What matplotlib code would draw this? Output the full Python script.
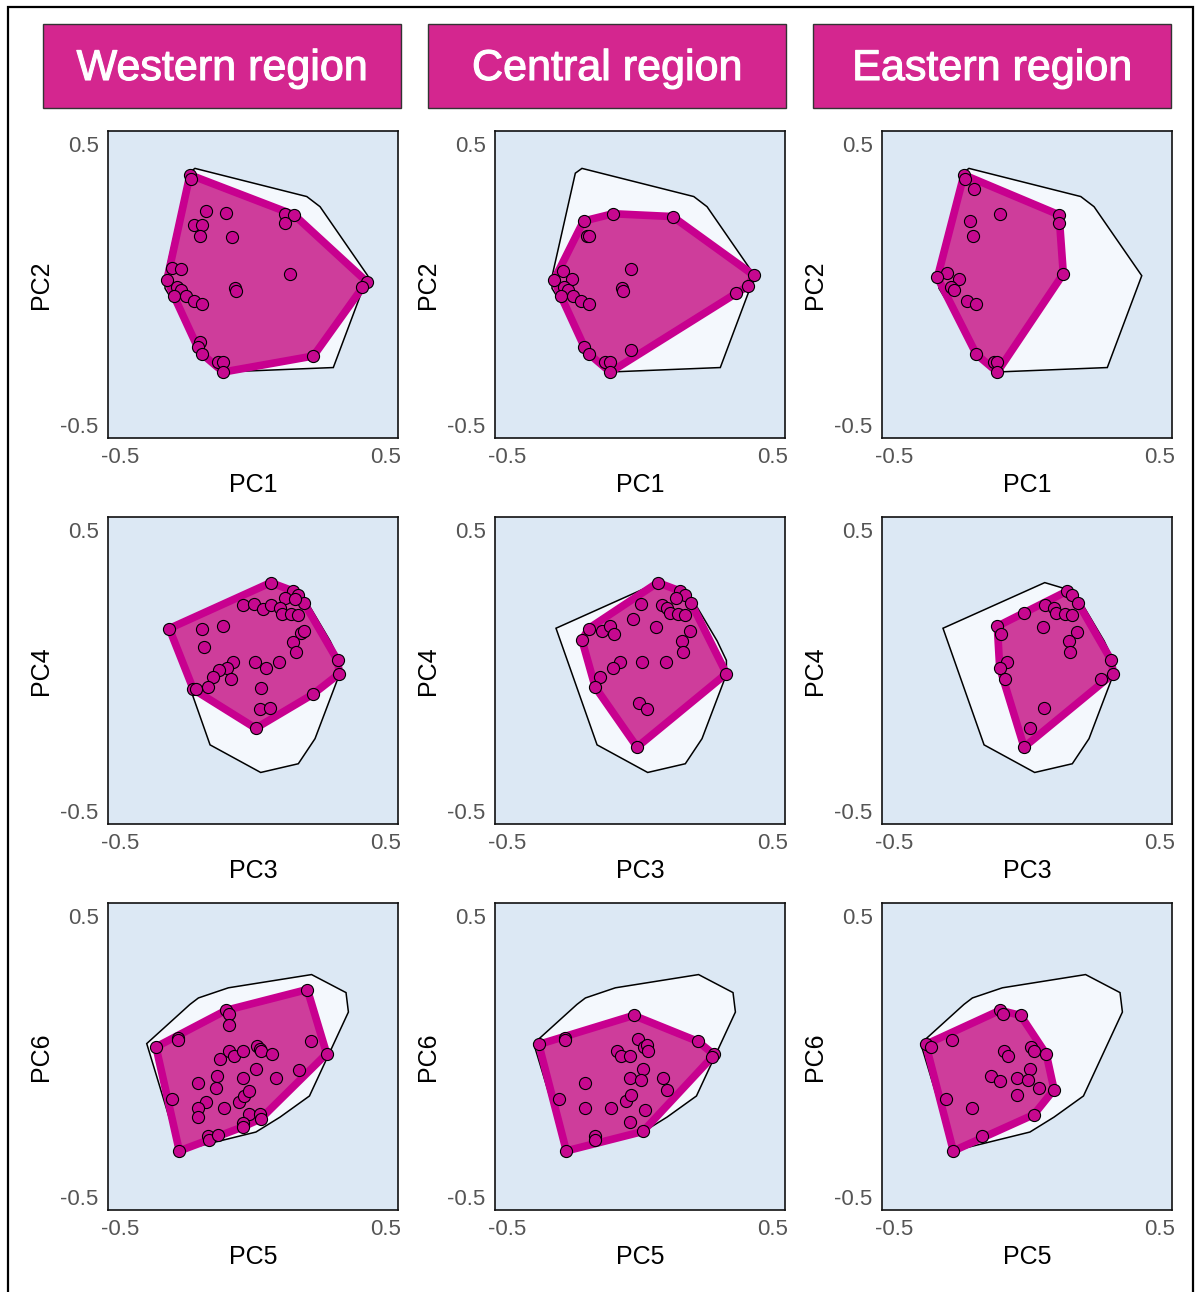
import matplotlib.pyplot as plt
from matplotlib.patches import Rectangle
import matplotlib.patheffects as pe

plt.rcParams['font.family'] = ['Liberation Sans', 'DejaVu Sans']

regions = ['Western region', 'Central region', 'Eastern region']
axis_names = [('PC1', 'PC2'), ('PC3', 'PC4'), ('PC5', 'PC6')]
tick_values = [-0.5, 0.5]
tick_labels = ['-0.5', '0.5']

# PC1 / PC2 scores
west_pc12 = [(-0.238, 0.389), (-0.234, 0.375), (-0.177, 0.261), (-0.102, 0.252),
             (-0.221, 0.211), (-0.194, 0.211), (-0.200, 0.172), (-0.079, 0.167),
             (0.121, 0.249), (0.155, 0.247), (0.121, 0.217), (-0.307, 0.057),
             (-0.272, 0.054), (-0.325, 0.015), (0.140, 0.038), (0.429, 0.010),
             (0.410, -0.010), (-0.286, -0.010), (-0.272, -0.020), (-0.298, -0.042),
             (-0.254, -0.040), (-0.221, -0.057), (-0.194, -0.068), (-0.068, -0.011),
             (-0.065, -0.022), (-0.200, -0.203), (-0.209, -0.223), (-0.191, -0.248),
             (-0.131, -0.277), (-0.112, -0.277), (-0.112, -0.311), (0.228, -0.254)]
central_pc12 = [(-0.213, 0.225), (-0.102, 0.251), (0.123, 0.241), (-0.200, 0.172),
                (-0.194, 0.172), (-0.034, 0.055), (-0.291, 0.046), (-0.257, 0.018),
                (-0.325, 0.015), (-0.286, -0.010), (-0.272, -0.020), (-0.298, -0.042),
                (-0.254, -0.040), (-0.221, -0.057), (-0.194, -0.068), (-0.068, -0.011),
                (-0.065, -0.022), (0.429, 0.033), (0.408, -0.005), (0.364, -0.029),
                (-0.210, -0.222), (-0.191, -0.248), (-0.034, -0.233), (-0.131, -0.277),
                (-0.114, -0.276), (-0.112, -0.311)]
east_pc12 = [(-0.238, 0.389), (-0.234, 0.375), (-0.200, 0.338), (-0.102, 0.251),
             (-0.215, 0.225), (-0.203, 0.172), (0.121, 0.247), (0.121, 0.217),
             (-0.301, 0.040), (-0.338, 0.025), (-0.257, 0.018), (-0.286, -0.010),
             (-0.275, -0.020), (-0.225, -0.057), (-0.194, -0.068), (0.137, 0.038),
             (-0.191, -0.248), (-0.125, -0.274), (-0.114, -0.277), (-0.112, -0.311)]
all_pc12 = [(-0.219, 0.412), (0.203, 0.312), (0.253, 0.276), (0.433, 0.031),
            (0.303, -0.295), (-0.093, -0.310), (-0.131, -0.295), (-0.313, -0.043),
            (-0.332, -0.014), (-0.332, 0.028), (-0.244, 0.395)]

# PC3 / PC4 scores
west_pc34 = [(0.067, 0.312), (0.152, 0.282), (0.169, 0.267), (0.192, 0.241),
             (0.121, 0.256), (0.158, 0.253), (-0.036, 0.231), (0.004, 0.235),
             (0.039, 0.220), (0.067, 0.231), (0.102, 0.223), (0.108, 0.202),
             (0.143, 0.199), (0.169, 0.197), (-0.316, 0.149), (-0.191, 0.149),
             (-0.112, 0.157), (-0.184, 0.085), (0.181, 0.134), (0.192, 0.140),
             (0.152, 0.101), (0.161, 0.067), (0.319, 0.036), (0.326, -0.011),
             (-0.074, 0.031), (-0.099, 0.010), (-0.128, 0.002), (-0.150, -0.023),
             (-0.169, -0.059), (-0.084, -0.031), (-0.225, -0.067), (-0.215, -0.067),
             (0.008, 0.030), (0.048, 0.010), (0.098, 0.031), (0.029, -0.063),
             (0.026, -0.136), (0.064, -0.132), (0.225, -0.085), (0.010, -0.205)]
central_pc34 = [(0.067, 0.312), (0.152, 0.282), (0.169, 0.267), (0.192, 0.241),
                (0.137, 0.256), (0.083, 0.231), (0.102, 0.223), (0.112, 0.205),
                (0.143, 0.199), (0.169, 0.197), (0.004, 0.235), (-0.026, 0.184),
                (0.060, 0.154), (-0.194, 0.149), (-0.143, 0.140), (-0.112, 0.157),
                (-0.099, 0.131), (-0.219, 0.108), (0.187, 0.140), (0.158, 0.105),
                (0.161, 0.067), (-0.074, 0.031), (-0.103, 0.010), (-0.152, -0.023),
                (-0.169, -0.059), (0.008, 0.030), (0.098, 0.031), (0.326, -0.011),
                (-0.005, -0.114), (0.026, -0.138), (-0.011, -0.272)]
east_pc34 = [(0.152, 0.282), (0.169, 0.267), (0.192, 0.241), (0.067, 0.231),
             (0.102, 0.223), (0.108, 0.205), (0.143, 0.199), (0.169, 0.197),
             (-0.011, 0.203), (0.060, 0.154), (-0.112, 0.157), (-0.099, 0.131),
             (0.187, 0.138), (0.158, 0.105), (0.161, 0.067), (0.318, 0.036),
             (0.326, -0.011), (0.278, -0.029), (-0.074, 0.031), (-0.103, 0.010),
             (-0.084, -0.031), (0.064, -0.132), (0.010, -0.205), (-0.011, -0.272)]
all_pc34 = [(-0.317, 0.150), (0.067, 0.312), (0.152, 0.288), (0.209, 0.235),
            (0.291, 0.105), (0.326, 0.036), (0.326, -0.014), (0.234, -0.242),
            (0.171, -0.331), (0.029, -0.362), (-0.162, -0.264)]

# PC5 / PC6 scores
west_pc56 = [(-0.366, 0.034), (-0.282, 0.067), (-0.284, 0.057), (-0.102, 0.164),
             (-0.089, 0.150), (-0.089, 0.111), (0.205, 0.238), (0.219, 0.054),
             (0.278, 0.010), (-0.125, -0.010), (-0.089, 0.018), (-0.072, 0.001),
             (-0.039, 0.020), (0.014, 0.036), (0.026, 0.028), (0.030, 0.020),
             (0.073, 0.008), (0.011, -0.043), (0.175, -0.046), (0.087, -0.075),
             (-0.039, -0.075), (-0.135, -0.070), (-0.140, -0.112), (-0.209, -0.093),
             (-0.304, -0.150), (-0.177, -0.162), (-0.209, -0.183), (-0.206, -0.215),
             (-0.109, -0.183), (-0.052, -0.162), (-0.034, -0.140), (-0.015, -0.124),
             (-0.015, -0.205), (0.026, -0.203), (0.029, -0.221), (-0.036, -0.236),
             (-0.039, -0.250), (-0.169, -0.283), (-0.165, -0.295), (-0.133, -0.277),
             (-0.278, -0.335)]
central_pc56 = [(-0.382, 0.043), (-0.282, 0.067), (-0.284, 0.057), (-0.024, 0.146),
                (-0.009, 0.063), (0.014, 0.034), (0.026, 0.040), (0.029, 0.020),
                (-0.087, 0.018), (-0.072, 0.001), (-0.039, 0.002), (0.218, 0.054),
                (0.278, 0.008), (0.272, -0.002), (0.011, -0.043), (-0.039, -0.075),
                (0.004, -0.082), (0.087, -0.075), (0.102, -0.117), (-0.209, -0.093),
                (-0.304, -0.150), (-0.206, -0.183), (-0.109, -0.183), (-0.052, -0.159),
                (-0.034, -0.136), (0.020, -0.188), (-0.036, -0.233), (0.011, -0.266),
                (-0.169, -0.283), (-0.169, -0.298), (-0.278, -0.335)]
east_pc56 = [(-0.382, 0.043), (-0.364, 0.034), (-0.284, 0.060), (-0.102, 0.164),
             (-0.089, 0.152), (-0.024, 0.146), (0.014, 0.034), (0.026, 0.020),
             (-0.087, 0.018), (-0.072, 0.001), (0.073, 0.008), (0.011, -0.043),
             (-0.039, -0.075), (0.004, -0.082), (-0.135, -0.070), (-0.103, -0.088),
             (0.045, -0.112), (0.102, -0.117), (-0.036, -0.136), (-0.304, -0.150),
             (-0.206, -0.183), (0.026, -0.206), (-0.169, -0.283), (-0.278, -0.335)]
all_pc56 = [(-0.401, 0.046), (-0.238, 0.185), (-0.206, 0.208), (-0.093, 0.244),
            (0.221, 0.291), (0.351, 0.227), (0.360, 0.158), (0.213, -0.140),
            (0.102, -0.215), (0.011, -0.268), (-0.278, -0.335)]

scores = [[west_pc12, central_pc12, east_pc12],
          [west_pc34, central_pc34, east_pc34],
          [west_pc56, central_pc56, east_pc56]]
outlines = [all_pc12, all_pc34, all_pc56]


def convex_hull(points):
    # monotone chain
    pts = sorted(set(points))

    def cross(o, a, b):
        return (a[0] - o[0]) * (b[1] - o[1]) - (a[1] - o[1]) * (b[0] - o[0])

    lower = []
    for p in pts:
        while len(lower) >= 2 and cross(lower[-2], lower[-1], p) <= 0:
            lower.pop()
        lower.append(p)
    upper = []
    for p in reversed(pts):
        while len(upper) >= 2 and cross(upper[-2], upper[-1], p) <= 0:
            upper.pop()
        upper.append(p)
    return lower[:-1] + upper[:-1]


W, H = 1196, 1292
fig = plt.figure(figsize=(W / 100, H / 100), dpi=100)

# outer frame
fig.patches.append(Rectangle((8 / W, -0.01), 1185 / W, 1 - 7 / H + 0.01,
                             transform=fig.transFigure, fill=False,
                             edgecolor='black', linewidth=1.6))

magenta = '#C8008F'
box_left = [43, 428, 813]
for c, name in enumerate(regions):
    fig.patches.append(Rectangle((box_left[c] / W, 1 - 108 / H), 358 / W, 84 / H,
                                 transform=fig.transFigure, facecolor='#D4268F',
                                 edgecolor='#333333', linewidth=1))
    fig.text((box_left[c] + 179) / W, 1 - 69 / H, name, color='white',
             fontsize=31, ha='center', va='center',
             path_effects=[pe.withStroke(linewidth=0.8, foreground='white')])

lefts = [108.3 / W, 495.3 / W, 882.3 / W]
bottoms = [0.6608, 0.3620, 0.0632]
lim = 0.546

for r in range(3):
    for c in range(3):
        ax = fig.add_axes([lefts[c], bottoms[r], 289.4 / W, 307.6 / H])
        ax.set_facecolor('#DCE8F4')
        ax.set_xlim(-lim, lim)
        ax.set_ylim(-lim, lim)
        ax.set_xticks(tick_values)
        ax.set_xticklabels(tick_labels)
        ax.set_yticks(tick_values)
        ax.set_yticklabels(tick_labels)
        ax.tick_params(axis='both', length=0, labelsize=16, labelcolor='#555555')
        ax.tick_params(axis='x', pad=6)
        ax.tick_params(axis='y', pad=7)
        for s in ax.spines.values():
            s.set_linewidth(1.2)
            s.set_color('#111111')
        ax.set_xlabel(axis_names[r][0], fontsize=18, labelpad=4)
        ax.set_ylabel(axis_names[r][1], fontsize=18, labelpad=5)

        ox, oy = zip(*outlines[r])
        ax.fill(ox, oy, facecolor='#F4F8FD', edgecolor='black',
                linewidth=1.1, zorder=1)

        pts = scores[r][c]
        hx, hy = zip(*convex_hull(pts))
        ax.fill(hx, hy, facecolor='#CE3D9B', edgecolor=magenta,
                linewidth=5.5, joinstyle='round', zorder=2)

        px, py = zip(*pts)
        ax.scatter(px, py, s=76, c='#C6088F', edgecolors='black',
                   linewidths=0.8, zorder=3)

fig.savefig('out.png', dpi=100)
